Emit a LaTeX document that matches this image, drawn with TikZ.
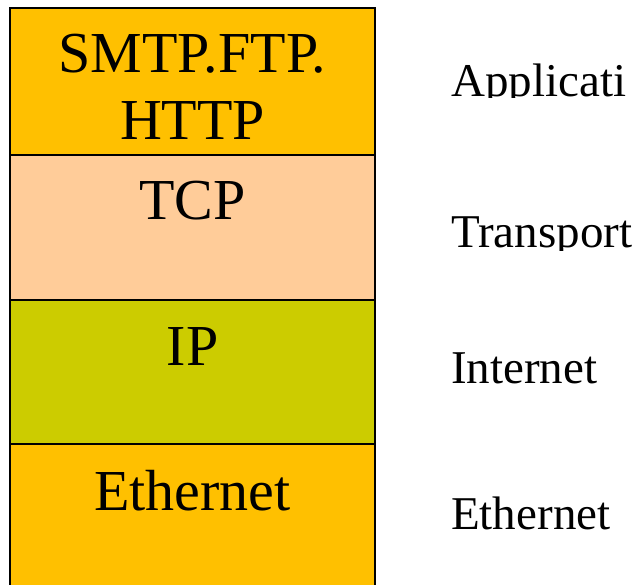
\documentclass[tikz,border=0pt]{standalone}
\usepackage{fontspec}
\setmainfont{Liberation Serif}
\definecolor{appfill}{HTML}{FFC000}
\definecolor{tcpfill}{HTML}{FFCC99}
\definecolor{ipfill}{HTML}{CCCC00}
\definecolor{ethfill}{HTML}{FFC000}
\begin{document}
\begin{tikzpicture}[x=1pt,y=-1pt]
\tikzset{
  layer/.style={draw=black, line width=1.4pt, minimum width=365pt,
    inner sep=0pt, outer sep=0pt, anchor=north west},
  boxtext/.style={font=\fontsize{58}{67}\selectfont, inner sep=0pt, align=center},
  sidetext/.style={font=\fontsize{47}{54}\selectfont, inner sep=0pt, anchor=base west},
}
\useasboundingbox (0,0) rectangle (640,585);
\clip (0,0) rectangle (640,585);

% protocol stack
\node[layer, fill=appfill, minimum height=147pt] (app) at (10,8) {};
\node[layer, fill=tcpfill, minimum height=145pt] (tcp) at (10,155) {};
\node[layer, fill=ipfill,  minimum height=144pt] (ip)  at (10,300) {};
\node[layer, fill=ethfill, minimum height=170pt] (eth) at (10,444) {};

\node[boxtext, anchor=north] (apptxt) at (192.5,34) {SMTP.FTP.\\HTTP};
\node[boxtext, anchor=base] (tcptxt) at (192.5,220) {TCP};
\node[boxtext, anchor=base] (iptxt)  at (192.5,366) {IP};
\node[boxtext, anchor=base] (ethtxt) at (192.5,510) {Ethernet};

% layer names
\begin{scope}
  \clip (440,40) rectangle (640,97.5);
  \node[sidetext] (appname) at (451,97) {Applicati};
\end{scope}
\begin{scope}
  \clip (440,190) rectangle (640,251);
  \node[sidetext] (tcpname) at (451,248) {Transport};
\end{scope}
\node[sidetext] (ipname)  at (451,384) {Internet};
\node[sidetext] (ethname) at (451,529) {Ethernet};
\end{tikzpicture}
\end{document}
